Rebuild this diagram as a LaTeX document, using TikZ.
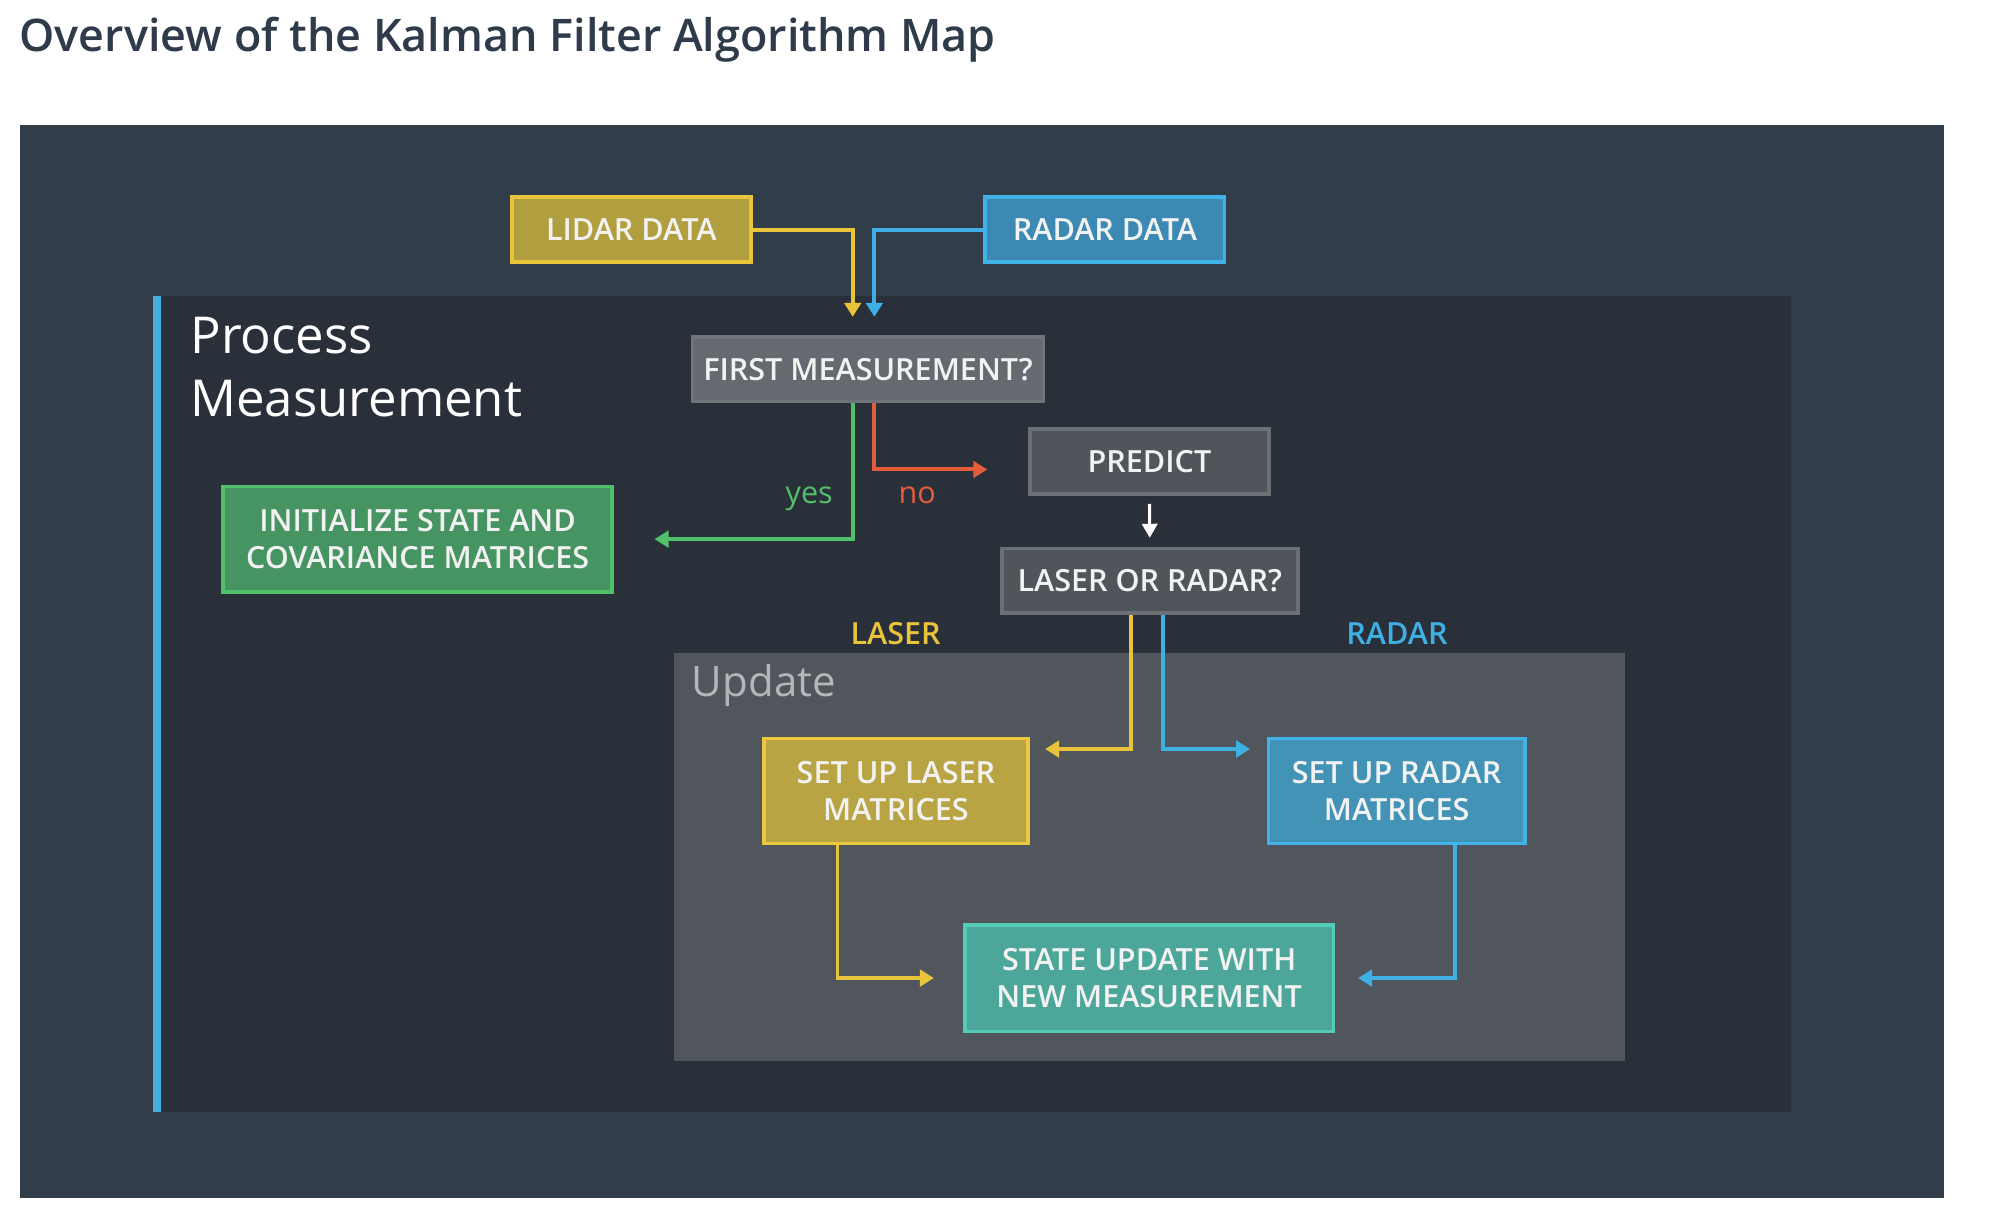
\documentclass[tikz,border=0pt]{standalone}
\usepackage{fontspec}
\setmainfont{Open Sans}
\IfFontExistsTF{Open Sans SemiBold}{\newfontfamily\sbf{Open Sans SemiBold}}{%
  \IfFontExistsTF{Open Sans Semibold}{\newfontfamily\sbf{Open Sans Semibold}}{%
    \newfontfamily\sbf{Open Sans}[FakeBold=0.6]}}
\usetikzlibrary{arrows.meta,calc}
\definecolor{titlecol}{HTML}{2F3B4A}
\definecolor{outerbg}{HTML}{323D4A}
\definecolor{innerbg}{HTML}{2A3039}
\definecolor{barblue}{HTML}{45AEE0}
\definecolor{lidfill}{HTML}{B19E3E}
\definecolor{lidline}{HTML}{E8C53B}
\definecolor{radfill}{HTML}{3C8AB4}
\definecolor{radline}{HTML}{3FB3E8}
\definecolor{firstfill}{HTML}{646A6F}
\definecolor{firstline}{HTML}{6F7478}
\definecolor{grayfill}{HTML}{50555B}
\definecolor{grayline}{HTML}{6B7075}
\definecolor{initfill}{HTML}{469462}
\definecolor{initline}{HTML}{52BF6A}
\definecolor{updbg}{HTML}{51565C}
\definecolor{updtxt}{HTML}{B4B7BA}
\definecolor{slfill}{HTML}{B9A444}
\definecolor{slline}{HTML}{ECC93C}
\definecolor{srfill}{HTML}{4393B6}
\definecolor{srline}{HTML}{42B3E8}
\definecolor{stfill}{HTML}{4CA79A}
\definecolor{stline}{HTML}{54CBB7}
\definecolor{cyel}{HTML}{E9C43B}
\definecolor{cblue}{HTML}{3FB0E4}
\definecolor{cgreen}{HTML}{52C06A}
\definecolor{cred}{HTML}{E45D3B}
\definecolor{boxtxt}{HTML}{F2F2F2}
\begin{document}
\begin{tikzpicture}[x=1pt,y=-1pt,
  box/.style={draw, line width=2.8pt, inner sep=0pt, text=boxtxt,
    font=\sbf\fontsize{24}{28.8}\selectfont, align=center},
  conn/.style={line width=3.1pt, -{Triangle[width=13pt,length=11pt]}},
  wconn/.style={line width=2.4pt, white, -{Triangle[width=12pt,length=11pt]}},
  lbl/.style={inner sep=0pt, anchor=base, font=\fontsize{24}{28}\selectfont},
  slbl/.style={inner sep=0pt, anchor=base, font=\sbf\fontsize{24}{28}\selectfont}]
\useasboundingbox[fill=white] (0,0) rectangle (1567.3,952.6);
% title
\node[anchor=base west, inner sep=0pt, text=titlecol,
  font=\sbf\fontsize{35.3}{40}\selectfont] (title) at (15.2,40.6)
  {Overview of the Kalman Filter Algorithm Map};
% backgrounds
\fill[outerbg] (15.7,98.5) rectangle (1528,941.4);
\fill[innerbg] (120,232.4) rectangle (1408,874);
\fill[barblue] (120,232.4) rectangle (126.8,874);
\fill[updbg] (530,513.3) rectangle (1277,833.7);
% panel titles
\node[anchor=base west, inner sep=0pt, text=white,
  font=\fontsize{40}{48}\selectfont] (proc) at (149.5,278) {Process};
\node[anchor=base west, inner sep=0pt, text=white,
  font=\fontsize{40}{48}\selectfont] (meas) at (149.5,327) {Measurement};
\node[anchor=base west, inner sep=0pt, text=updtxt,
  font=\fontsize{33}{40}\selectfont] (upd) at (543.7,547.6) {Update};
% boxes
\node[box, fill=lidfill, draw=lidline, minimum width=187.7pt, minimum height=51.2pt]
  (lidar) at (496.25,180.5) {LIDAR DATA};
\node[box, fill=radfill, draw=radline, minimum width=188.2pt, minimum height=51.2pt]
  (radar) at (868.5,180.5) {RADAR DATA};
\node[box, fill=firstfill, draw=firstline, minimum width=275.7pt, minimum height=50.7pt]
  (first) at (682.25,290.25) {FIRST MEASUREMENT?};
\node[box, fill=grayfill, draw=grayline, minimum width=188.2pt, minimum height=50.8pt]
  (predict) at (903.5,362.8) {PREDICT};
\node[box, fill=grayfill, draw=grayline, minimum width=232.7pt, minimum height=50.9pt]
  (lor) at (903.75,456.55) {LASER OR RADAR?};
\node[box, fill=initfill, draw=initline, minimum width=305.7pt, minimum height=82.7pt]
  (init) at (328.25,423.75) {INITIALIZE STATE AND\\COVARIANCE MATRICES};
\node[box, fill=slfill, draw=slline, minimum width=207.7pt, minimum height=82.7pt]
  (slaser) at (704.25,621.75) {SET UP LASER\\MATRICES};
\node[box, fill=srfill, draw=srline, minimum width=201.7pt, minimum height=82.7pt]
  (sradar) at (1097.75,621.75) {SET UP RADAR\\MATRICES};
\node[box, fill=stfill, draw=stline, minimum width=289.7pt, minimum height=83.7pt]
  (state) at (903.25,768.75) {STATE UPDATE WITH\\NEW MEASUREMENT};
% labels
\node[lbl, text=cgreen] (yes) at (636,395.6) {yes};
\node[lbl, text=cred] (no) at (721,395.6) {no};
\node[slbl, text=cyel] (laserlbl) at (704,506.2) {LASER};
\node[slbl, text=cblue] (radarlbl) at (1098,506.2) {RADAR};
% connectors
\draw[conn, cyel] (lidar.east) -| ($(first.north)+(-12,-14.5)$);
\draw[conn, cblue] (radar.west) -| ($(first.north)+(5,-14.5)$);
\draw[conn, cgreen] ($(first.south)+(-12,0)$) |- ($(init.east)+(32,0)$);
\draw[conn, cred] ($(first.south)+(5,0)$) |- ($(predict.west)+(-32,6.2)$);
\draw[wconn] ($(predict.south)+(0,6.5)$) -- ($(lor.north)+(0,-7)$);
\draw[conn, cyel] ($(lor.south)+(-15,0)$) |- ($(slaser.east)+(12,-33)$);
\draw[conn, cblue] ($(lor.south)+(10,0)$) |- ($(sradar.west)+(-13,-33)$);
\draw[conn, cyel] ($(slaser.south)+(-46,0)$) |- ($(state.west)+(-23,0)$);
\draw[conn, cblue] ($(sradar.south)+(46,0)$) |- ($(state.east)+(18,0)$);
\end{tikzpicture}
\end{document}
